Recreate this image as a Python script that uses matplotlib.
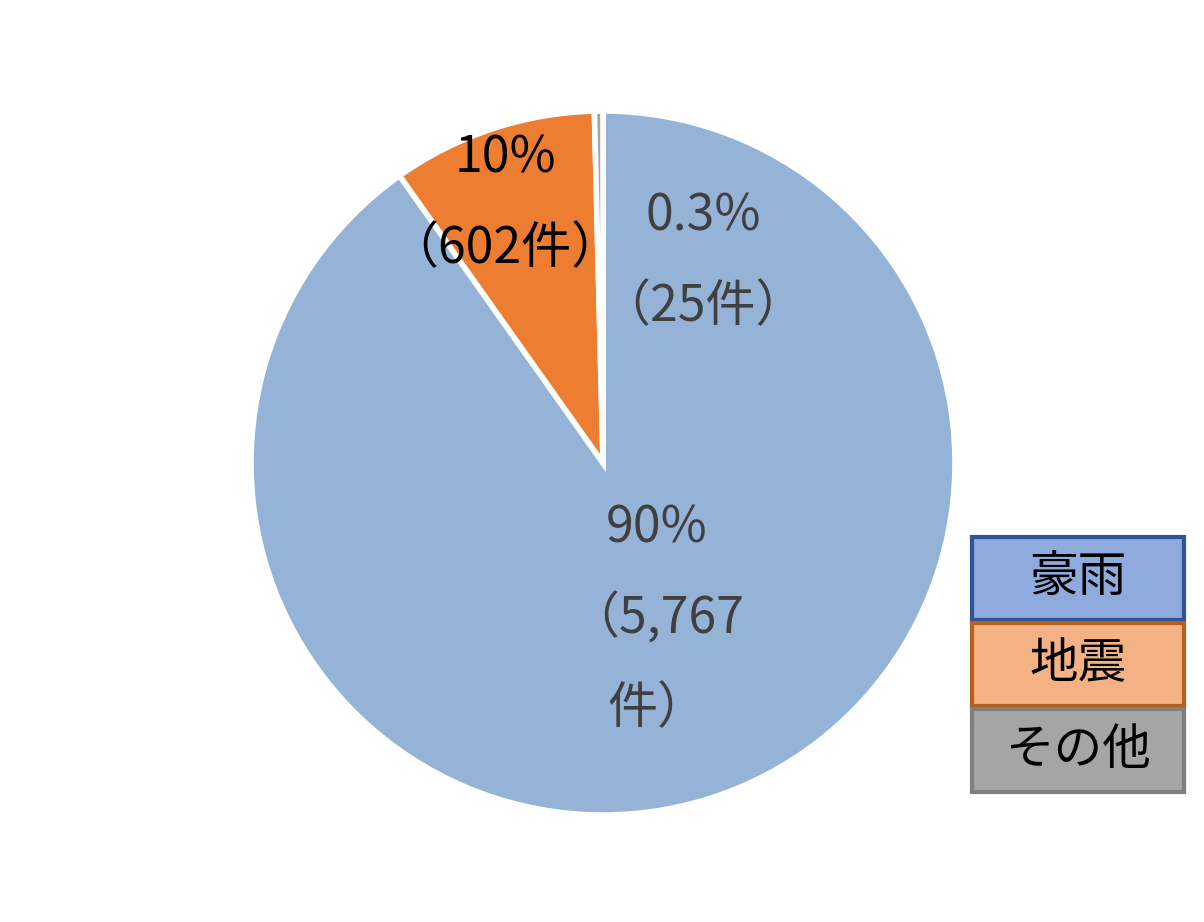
import matplotlib.pyplot as plt
from matplotlib.patches import Rectangle

plt.rcParams['font.family'] = ['Noto Sans CJK JP', 'DejaVu Sans']

# data
categories = ["豪雨", "地震", "その他"]
counts = [5767, 602, 25]
pct_labels = ["90%\n（5,767\n件）", "10%\n（602件）", "0.3%\n（25件）"]

wedge_colors = ["#95B3D7", "#ED7D31", "#A5A5A5"]
legend_face = ["#8FAADC", "#F4B183", "#A5A5A5"]
legend_edge = ["#2F5597", "#B4601E", "#7F7F7F"]
label_colors = ["#404040", "#000000", "#404040"]

W, H = 1204, 922
fig = plt.figure(figsize=(W / 100, H / 100), dpi=100)
ax = fig.add_axes([0, 0, 1, 1])

cx, cy, r = 603, H - 463, 352
ax.pie(counts, colors=wedge_colors, startangle=90, counterclock=False,
       center=(cx, cy), radius=r, frame=True,
       wedgeprops=dict(edgecolor="white", linewidth=4))
ax.set_xlim(0, W)
ax.set_ylim(0, H)
ax.set_aspect('equal')
ax.axis('off')

# data labels (pixel offsets from the pie center)
label_pos = [(cx + 54, cy - 156), (cx - 98, cy + 259), (cx + 100, cy + 201)]
for txt, (x, y), c in zip(pct_labels, label_pos, label_colors):
    ax.text(x, y, txt, ha="center", va="center", fontsize=36, color=c,
            linespacing=1.96, multialignment="center")

# legend boxes
bx, bw, bh = 972, 212, 83
top = H - 537
for i, (name, fc, ec) in enumerate(zip(categories, legend_face, legend_edge)):
    y0 = top - (i + 1) * bh - i * 3
    ax.add_patch(Rectangle((bx, y0), bw, bh, facecolor=fc, edgecolor=ec,
                           linewidth=3))
    ax.text(bx + bw / 2, y0 + bh / 2, name, ha="center", va="center",
            fontsize=35, color="black")

fig.savefig("out.png", dpi=100, facecolor="white")
